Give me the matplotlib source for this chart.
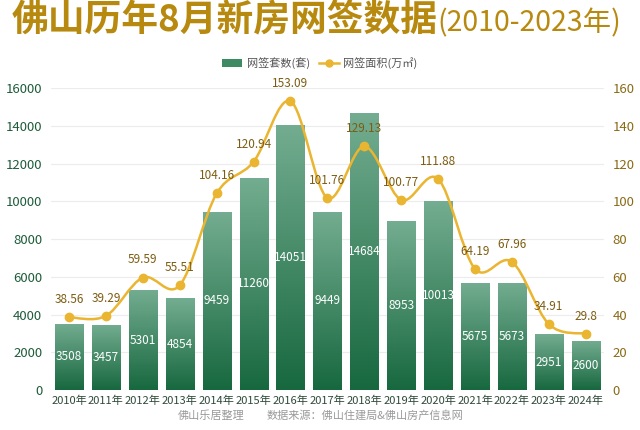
import numpy as np
import matplotlib
matplotlib.use("Agg")
import matplotlib.pyplot as plt
from matplotlib.path import Path
from matplotlib.patches import PathPatch, Patch
from matplotlib.lines import Line2D
from matplotlib.colors import LinearSegmentedColormap

plt.rcParams['font.family'] = ['Noto Sans CJK SC', 'DejaVu Sans']

# Data ------------------------
years = ['2010年', '2011年', '2012年', '2013年', '2014年', '2015年', '2016年', '2017年',
         '2018年', '2019年', '2020年', '2021年', '2022年', '2023年', '2024年']
units = [3508, 3457, 5301, 4854, 9459, 11260, 14051, 9449, 14684, 8953, 10013, 5675, 5673, 2951, 2600]
area = [38.56, 39.29, 59.59, 55.51, 104.16, 120.94, 153.09, 101.76, 129.13, 100.77, 111.88,
        64.19, 67.96, 34.91, 29.8]
area_labels = ['38.56', '39.29', '59.59', '55.51', '104.16', '120.94', '153.09', '101.76',
               '129.13', '100.77', '111.88', '64.19', '67.96', '34.91', '29.8']
# -----------------------------

green_dark = '#17683f'
green_light = '#74ad91'
gold = '#eab530'
label_gold = '#7d5c12'

fig = plt.figure(figsize=(6.4, 4.3), dpi=100)
ax = fig.add_axes([0.079, 0.093, 0.865, 0.702])
ax2 = ax.twinx()

x = np.arange(len(years))
bars = ax.bar(x, units, width=0.76, color='none', zorder=2)

# gradient fill for each bar
cmap = LinearSegmentedColormap.from_list('g', [green_dark, green_light])
grad = np.linspace(0, 1, 256).reshape(-1, 1)
for b in bars:
    x0, w, h = b.get_x(), b.get_width(), b.get_height()
    im = ax.imshow(grad, cmap=cmap, aspect='auto', origin='lower',
                   extent=(x0, x0 + w, 0, h), zorder=2)
    im.set_clip_path(b)

for xi, v in zip(x, units):
    ax.text(xi, v / 2, str(v), ha='center', va='center', color='white', fontsize=8.5, zorder=3)

ax.set_xlim(-0.5, len(years) - 0.5)
ax.set_ylim(0, 16000)
ax.set_yticks(range(0, 16001, 2000))
ax.set_xticks(x)
ax.set_xticklabels(years, fontsize=8, color='#2f4a3a')
ax.tick_params(axis='y', labelsize=9.5, colors='#1e5c3a', length=0, pad=6)
ax.tick_params(axis='x', length=0, pad=4)
ax.grid(axis='y', color='#ececec', linewidth=0.8, zorder=0)
ax.set_axisbelow(True)
for s in ax.spines.values():
    s.set_visible(False)

# smooth line via bezier path (Catmull-Rom)
pts = np.column_stack([x, area]).astype(float)
ext = np.vstack([pts[0], pts, pts[-1]])
verts = [tuple(pts[0])]
codes = [Path.MOVETO]
for i in range(len(pts) - 1):
    p0, p1, p2, p3 = ext[i], ext[i + 1], ext[i + 2], ext[i + 3]
    c1 = p1 + (p2 - p0) / 6
    c2 = p2 - (p3 - p1) / 6
    verts += [tuple(c1), tuple(c2), tuple(p2)]
    codes += [Path.CURVE4] * 3
ax2.add_patch(PathPatch(Path(verts, codes), facecolor='none', edgecolor=gold, lw=1.8, zorder=4))
ax2.plot(x, area, 'o', color=gold, markersize=6, zorder=5)
for xi, v, lab in zip(x, area, area_labels):
    ax2.annotate(lab, (xi, v), xytext=(0, 8), textcoords='offset points', ha='center',
                 va='bottom', fontsize=8.5, color=label_gold, zorder=6)

ax2.set_ylim(0, 160)
ax2.set_yticks(range(0, 161, 20))
ax2.tick_params(axis='y', labelsize=9.5, colors='#8a6a16', length=0, pad=6)
for s in ax2.spines.values():
    s.set_visible(False)

# title
t1 = fig.text(0.018, 0.952, '佛山历年8月新房网签数据', fontsize=26.5, fontweight='bold',
              color='#b8890f', ha='left', va='center')
fig.canvas.draw()
bb = t1.get_window_extent().transformed(fig.transFigure.inverted())
fig.text(bb.x1, 0.945, '(2010-2023年)', fontsize=20.5, fontweight='medium',
         color='#b8890f', ha='left', va='center')

# legend
handles = [Patch(facecolor='#3d8a63', edgecolor='none'),
           Line2D([0], [0], color=gold, lw=1.8, marker='o', markersize=5)]
fig.legend(handles, ['网签套数(套)', '网签面积(万㎡)'], loc='center', bbox_to_anchor=(0.5, 0.853),
           ncol=2, frameon=False, fontsize=8, labelcolor='#555555', handlelength=1.8,
           handletextpad=0.4, columnspacing=0.8)

# footer
fig.text(0.33, 0.033, '佛山乐居整理', fontsize=8, color='#999999', ha='center', va='center')
fig.text(0.57, 0.033, '数据来源：佛山住建局&佛山房产信息网', fontsize=8, color='#999999',
         ha='center', va='center')

fig.savefig('out.png', dpi=100)
